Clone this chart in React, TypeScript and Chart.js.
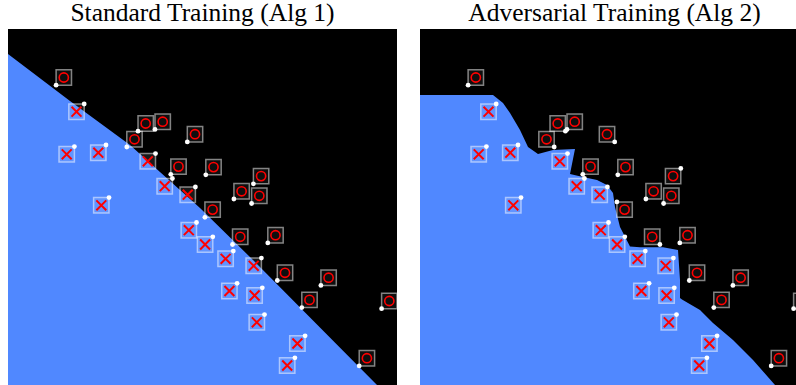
import React, { useEffect, useRef } from 'react';
import { Chart, registerables } from 'chart.js';

Chart.register(...registerables);

// ---------- data ----------
const EPS = 7.7; // perturbation budget (L-inf ball half-size)
const AXIS_MIN = 0;
const AXIS_MAX = 389;

const titles = ['Standard Training (Alg 1)', 'Adversarial Training (Alg 2)'];

// class "o" points
const circleX = [55.8, 137.7, 154.7, 126.5, 187, 170.5, 205.5, 253.1, 233.6, 251.3, 204.6, 232.2, 267.5, 277, 320.6, 301.5, 381.3, 358.9];
const circleY = [340.5, 294.5, 296.3, 278.7, 283.8, 251.4, 250.9, 241.9, 226.7, 222.2, 208.4, 181.2, 182.8, 145.2, 140.3, 118.1, 117, 59.8];

// class "x" points
const crossX = [68.5, 58.7, 90.3, 139.8, 156.7, 179.7, 93.3, 180.8, 197.1, 217.6, 245.7, 221.4, 246.6, 248.8, 289.4, 279.2];
const crossY = [306.3, 263.7, 265.3, 256.7, 231.8, 223.3, 212.7, 187.8, 173.5, 159.2, 152.2, 127, 122.5, 95.7, 74.5, 52.5];

// adversarial perturbation directions (sign of each coordinate)
const stdCircleDirX = [-1, -1, -1, -1, -1, -1, -1, -1, -1, -1, -1, -1, -1, -1, -1, -1, -1, -1];
const stdCircleDirY = [-1, -1, -1, -1, -1, -1, -1, -1, -1, -1, -1, -1, -1, -1, -1, -1, -1, -1];
const advCircleDirX = [-1, 1, -1, 1, 1, -1, -1, 1, -1, -1, -1, 1, -1, -1, -1, -1, -1, -1];
const advCircleDirY = [-1, -1, -1, -1, -1, -1, -1, 1, -1, -1, 1, -1, -1, -1, -1, -1, -1, -1];
const crossDirX = [1, 1, 1, 1, 1, 1, 1, 1, 1, 1, 1, 1, 1, 1, 1, 1];
const crossDirY = [1, 1, 1, 1, 1, 1, 1, 1, 1, 1, 1, 1, 1, 1, 1, 1];

// decision boundaries (region below is class "x")
const stdBoundaryX = [0, 62, 122, 192, 245, 369, 402];
const stdBoundaryY = [364, 317, 273, 210, 158, 33, 0];
const advBoundaryX = [0, 73, 83, 90, 100, 108, 118, 133, 155, 150, 163, 177, 187, 193, 195, 200, 210, 220, 243, 258, 260, 260, 262, 280, 293, 313, 333, 355, 388];
const advBoundaryY = [323, 323, 315, 305, 288, 271, 264, 268, 269, 244, 241, 238, 233, 225, 211, 191, 171.5, 170.7, 170.7, 168, 138, 120, 118.5, 108, 95, 78, 58, 33, 0];

// ---------- styles ----------
const BLUE = '#5088ff';
const RED = '#ff0000';

function makeRegionPlugin(bx: number[], by: number[]) {
  return {
    id: 'region',
    beforeDatasetsDraw(chart: any) {
      const { ctx, chartArea, scales } = chart;
      const xs = scales.x;
      const ys = scales.y;
      ctx.save();
      ctx.beginPath();
      ctx.rect(chartArea.left, chartArea.top, chartArea.width, chartArea.height);
      ctx.clip();
      ctx.fillStyle = '#000';
      ctx.fillRect(chartArea.left, chartArea.top, chartArea.width, chartArea.height);
      ctx.beginPath();
      bx.forEach((v, i) => {
        const px = xs.getPixelForValue(v);
        const py = ys.getPixelForValue(by[i]);
        if (i === 0) ctx.moveTo(px, py);
        else ctx.lineTo(px, py);
      });
      ctx.lineTo(xs.getPixelForValue(AXIS_MAX + 20), ys.getPixelForValue(AXIS_MIN - 20));
      ctx.lineTo(xs.getPixelForValue(AXIS_MIN - 20), ys.getPixelForValue(AXIS_MIN - 20));
      ctx.lineTo(xs.getPixelForValue(AXIS_MIN - 20), ys.getPixelForValue(by[0]));
      ctx.closePath();
      ctx.fillStyle = BLUE;
      ctx.fill();
      ctx.restore();
    },
  };
}

const squareRadius = (c: any) => {
  const s = c.chart.scales.x;
  const half = Math.abs(s.getPixelForValue(EPS) - s.getPixelForValue(0));
  return half / Math.SQRT1_2;
};

function Panel(props: {
  left: number;
  title: string;
  bx: number[];
  by: number[];
  cdx: number[];
  cdy: number[];
}) {
  const ref = useRef<HTMLCanvasElement | null>(null);
  useEffect(() => {
    if (!ref.current) return;
    const circles = circleX.map((x, i) => ({ x, y: circleY[i] }));
    const crosses = crossX.map((x, i) => ({ x, y: crossY[i] }));
    const advCircles = circleX.map((x, i) => ({ x: x + EPS * props.cdx[i], y: circleY[i] + EPS * props.cdy[i] }));
    const advCrosses = crossX.map((x, i) => ({ x: x + EPS * crossDirX[i], y: crossY[i] + EPS * crossDirY[i] }));
    const chart = new Chart(ref.current, {
      type: 'scatter',
      data: {
        datasets: [
          {
            label: 'adv',
            data: [...advCircles, ...advCrosses],
            pointStyle: 'circle',
            pointRadius: 2.4,
            backgroundColor: '#ffffff',
            borderWidth: 0,
          },
          {
            label: 'o',
            data: circles,
            pointStyle: 'circle',
            pointRadius: 4.6,
            borderColor: RED,
            backgroundColor: 'rgba(0,0,0,0)',
            borderWidth: 1.6,
          },
          {
            label: 'x',
            data: crosses,
            pointStyle: 'crossRot',
            pointRadius: 7,
            borderColor: RED,
            borderWidth: 2,
          },
          {
            label: 'o-ball',
            data: circles,
            pointStyle: 'rect',
            pointRadius: squareRadius,
            borderColor: 'rgba(255,255,255,0.5)',
            backgroundColor: 'rgba(255,255,255,0.06)',
            borderWidth: 1.5,
          },
          {
            label: 'x-ball',
            data: crosses,
            pointStyle: 'rect',
            pointRadius: squareRadius,
            borderColor: 'rgba(255,255,255,0.5)',
            backgroundColor: 'rgba(255,255,255,0.1)',
            borderWidth: 1.5,
          },
        ],
      },
      options: {
        animation: false,
        responsive: false,
        devicePixelRatio: 1,
        events: [],
        layout: { padding: 0, autoPadding: false },
        scales: {
          x: { type: 'linear', min: AXIS_MIN, max: AXIS_MAX, display: false },
          y: { type: 'linear', min: AXIS_MIN, max: AXIS_MAX, display: false },
        },
        plugins: {
          legend: { display: false },
          tooltip: { enabled: false },
          title: { display: false },
        },
      },
      plugins: [makeRegionPlugin(props.bx, props.by)],
    });
    return () => chart.destroy();
  }, []);
  return (
    <>
      <div
        style={{
          position: 'absolute',
          left: props.left,
          top: 0,
          width: 389,
          textAlign: 'center',
          fontFamily: '"Liberation Serif", "Times New Roman", serif',
          fontSize: '25.5px',
          lineHeight: '25.5px',
          color: '#000',
          whiteSpace: 'nowrap',
        }}
      >
        {props.title}
      </div>
      <canvas
        ref={ref}
        width={389}
        height={389}
        style={{ position: 'absolute', left: props.left, top: 29, width: 389, height: 389 }}
      />
    </>
  );
}

export default function App() {
  return (
    <div
      style={{
        position: 'fixed',
        left: 0,
        top: 0,
        width: 796,
        height: 385,
        overflow: 'hidden',
        background: '#fff',
      }}
    >
      <Panel left={8} title={titles[0]} bx={stdBoundaryX} by={stdBoundaryY} cdx={stdCircleDirX} cdy={stdCircleDirY} />
      <Panel left={420} title={titles[1]} bx={advBoundaryX} by={advBoundaryY} cdx={advCircleDirX} cdy={advCircleDirY} />
    </div>
  );
}
